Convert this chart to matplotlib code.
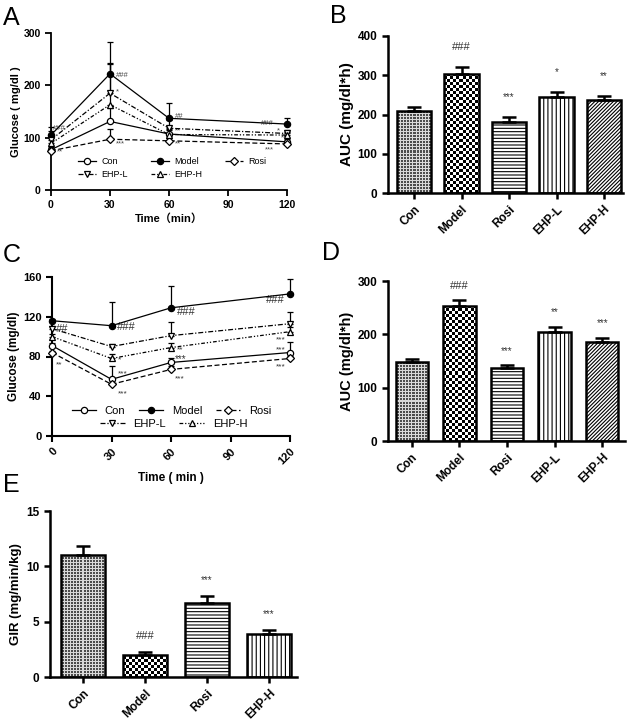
import numpy as np
import matplotlib
matplotlib.use("Agg")
import matplotlib.pyplot as plt

plt.rcParams['font.family'] = ['Liberation Sans', 'DejaVu Sans']
plt.rcParams['hatch.linewidth'] = 0.8

# ---------------- data ----------------
times = [0, 30, 60, 120]
groups5 = ["Con", "Model", "Rosi", "EHP-L", "EHP-H"]
groups4 = ["Con", "Model", "Rosi", "EHP-H"]

# Panel A (OGTT)
ogtt_con = [77, 131, 107, 92]
ogtt_con_err = [5, 25, 8, 5]
ogtt_model = [105, 222, 137, 126]
ogtt_model_err = [15, 60, 30, 11]
ogtt_rosi = [75, 97, 94, 88]
ogtt_rosi_err = [5, 20, 5, 4]
ogtt_ehpl = [96, 185, 118, 108]
ogtt_ehpl_err = [17, 58, 15, 6]
ogtt_ehph = [89, 163, 106, 105]
ogtt_ehph_err = [10, 77, 10, 5]

# Panel C (ITT)
itt_con = [91, 57, 74, 84]
itt_con_err = [3, 13, 4, 11]
itt_model = [116, 111, 129, 143]
itt_model_err = [2, 24, 22, 15]
itt_rosi = [84, 52, 67, 78]
itt_rosi_err = [2, 4, 3, 3]
itt_ehpl = [108, 90, 101, 113]
itt_ehpl_err = [3, 3, 14, 12]
itt_ehph = [100, 78, 89, 105]
itt_ehph_err = [3, 5, 5, 5]

# Panel B / D / E
auc_ogtt = [210, 303, 182, 244, 236]
auc_ogtt_err = [8, 17, 11, 13, 12]
auc_itt = [149, 254, 136, 204, 186]
auc_itt_err = [5, 10, 6, 10, 8]
gir = [11.0, 1.96, 6.7, 3.92]
gir_err = [0.86, 0.27, 0.63, 0.31]

sig_b = ["", "###", "***", "*", "**"]
sig_d = ["", "###", "***", "**", "***"]
sig_e = ["", "###", "***", "***"]

W, H = 629, 726
fig = plt.figure(figsize=(W / 100, H / 100), dpi=100)


def ax_px(x0, y0, x1, y1):
    return fig.add_axes([x0 / W, 1 - y1 / H, (x1 - x0) / W, (y1 - y0) / H])


def style_axes(ax, lw=1.5):
    for s in ['top', 'right']:
        ax.spines[s].set_visible(False)
    for s in ['left', 'bottom']:
        ax.spines[s].set_linewidth(lw)
    ax.tick_params(direction='out', length=4, width=lw)


series_style = {
    "Con": dict(ls='-', marker='o', mfc='white', ms=4.5),
    "Model": dict(ls='-', marker='o', mfc='black', ms=4.5),
    "Rosi": dict(ls=(0, (4, 2)), marker='D', mfc='white', ms=3.8),
    "EHP-L": dict(ls=(0, (4, 1.5, 1, 1.5)), marker='v', mfc='white', ms=4.5),
    "EHP-H": dict(ls=(0, (3, 1.5, 1, 1.5, 1, 1.5)), marker='^', mfc='white', ms=4.5),
}


def line_panel(ax, data):
    handles = {}
    for name, vals, err in data:
        st = series_style[name]
        h, = ax.plot(times, vals, color='black', lw=0.9, ls=st['ls'], marker=st['marker'],
                     mfc=st['mfc'], mec='black', ms=st['ms'], mew=0.9, clip_on=False, zorder=4)
        ax.errorbar(times, vals, yerr=[np.zeros(len(err)), err], fmt='none', ecolor='black',
                    elinewidth=0.9, capsize=2.5, capthick=0.9, clip_on=False, zorder=3)
        handles[name] = h
    return handles


# ---------------- Panel A ----------------
axA = ax_px(51, 33, 287, 190)
style_axes(axA, 1.3)
hA = line_panel(axA, [("Con", ogtt_con, ogtt_con_err), ("Model", ogtt_model, ogtt_model_err),
                      ("Rosi", ogtt_rosi, ogtt_rosi_err), ("EHP-L", ogtt_ehpl, ogtt_ehpl_err),
                      ("EHP-H", ogtt_ehph, ogtt_ehph_err)])
axA.set_xlim(0, 120)
axA.set_ylim(0, 300)
axA.set_xticks([0, 30, 60, 90, 120])
axA.set_yticks([0, 100, 200, 300])
for lab in axA.get_xticklabels() + axA.get_yticklabels():
    lab.set_fontsize(7.5)
    lab.set_fontweight('bold')
axA.set_ylabel("Glucose ( mg/dl )", fontsize=8, fontweight='bold', labelpad=2)
axA.set_xlabel("Time（min）", fontsize=8, fontweight='bold', labelpad=2,
               family=['Liberation Sans', 'Noto Sans CJK SC'])
order = ["Con", "EHP-L", "Model", "EHP-H", "Rosi"]
axA.legend([hA[k] for k in order], order, ncol=3, loc='center left', bbox_to_anchor=(0.08, 0.14),
           frameon=False, fontsize=6.5, handlelength=2.0, columnspacing=2.5, labelspacing=0.4,
           handletextpad=0.6)
ann_a = [(1, 118, "###"), (33, 218, "###"), (33, 188, "*"), (33, 88, "***"), (3, 72, "**"),
         (63, 140, "##"), (63, 112, "**"), (63, 88, "**"), (107, 128, "###"), (115, 112, "*"),
         (117, 100, "**"), (109, 76, "***")]
for x, y, t in ann_a:
    axA.text(x, y, t, fontsize=5.5, color='#444', ha='left', va='center')

# ---------------- Panel C ----------------
axC = ax_px(52, 277, 290, 436)
style_axes(axC, 1.5)
hC = line_panel(axC, [("Con", itt_con, itt_con_err), ("Model", itt_model, itt_model_err),
                      ("Rosi", itt_rosi, itt_rosi_err), ("EHP-L", itt_ehpl, itt_ehpl_err),
                      ("EHP-H", itt_ehph, itt_ehph_err)])
axC.set_xlim(0, 120)
axC.set_ylim(0, 160)
axC.set_xticks([0, 30, 60, 90, 120])
axC.set_yticks([0, 40, 80, 120, 160])
for lab in axC.get_yticklabels():
    lab.set_fontsize(8)
    lab.set_fontweight('bold')
for lab in axC.get_xticklabels():
    lab.set_fontsize(8)
    lab.set_fontweight('bold')
    lab.set_rotation(45)
    lab.set_ha('right')
    lab.set_rotation_mode('anchor')
axC.set_ylabel("Glucose (mg/dl)", fontsize=8.5, fontweight='bold', labelpad=2)
axC.set_xlabel("Time ( min )", fontsize=8.5, fontweight='bold', labelpad=4)
leg1 = axC.legend([hC[k] for k in ["Con", "Model", "Rosi"]], ["Con", "Model", "Rosi"], ncol=3,
                  loc='center left', bbox_to_anchor=(0.04, 0.16), frameon=False, fontsize=8,
                  handlelength=2.2, columnspacing=1.2, handletextpad=0.8)
axC.add_artist(leg1)
axC.legend([hC[k] for k in ["EHP-L", "EHP-H"]], ["EHP-L", "EHP-H"], ncol=2,
           loc='center left', bbox_to_anchor=(0.16, 0.075), frameon=False, fontsize=8,
           handlelength=2.2, columnspacing=1.2, handletextpad=0.8)
ann_c = [(2, 108, "##", 8), (2, 72, "**", 6), (33, 110, "###", 8), (33, 77, "*", 6),
         (33, 62, "***", 6), (33, 42, "***", 6), (63, 125, "###", 8), (63, 87, "**", 6),
         (62, 77, "***", 7), (62, 57, "***", 6), (108, 137, "###", 8), (113, 97, "***", 6),
         (113, 87, "***", 6), (113, 70, "***", 6)]
for x, y, t, fs in ann_c:
    axC.text(x, y, t, fontsize=fs, color='#333', ha='left', va='center')


# ---------------- bar panels ----------------
def texture(ax, bar, kind):
    x0, y0 = bar.get_x(), bar.get_y()
    w, h = bar.get_width(), bar.get_height()
    (px0, py0), (px1, py1) = ax.transData.transform([(x0, y0), (x0 + w, y0 + h)])
    nx, ny = max(int(round(abs(px1 - px0))), 1), max(int(round(abs(py1 - py0))), 1)
    ii, jj = np.mgrid[0:ny, 0:nx]
    if kind == 'checker':
        arr = ((ii // 3 + jj // 3) % 2).astype(float)
    else:  # fine grey grid
        arr = np.where((ii % 3 == 0) | (jj % 3 == 0), 0.85, 0.3)
    xl, yl = ax.get_xlim(), ax.get_ylim()
    im = ax.imshow(arr, extent=(x0, x0 + w, y0, y0 + h), origin='lower', cmap='gray',
                   vmin=0, vmax=1, interpolation='nearest', aspect='auto', zorder=1.5)
    im.set_clip_path(bar)
    ax.set_xlim(xl)
    ax.set_ylim(yl)


def bar_panel(ax, cats, vals, errs, patterns, xlim, ylim, yticks, ylabel, sigs, sig_off, width, ylabfs):
    style_axes(ax, 1.8)
    x = np.arange(len(cats))
    ax.set_xlim(*xlim)
    ax.set_ylim(*ylim)
    bars = ax.bar(x, vals, width=width, color='white', edgecolor='none', zorder=1)
    for b, p in zip(bars, patterns):
        if p in ('checker', 'grey'):
            texture(ax, b, p)
    hatch_bars = ax.bar(x, vals, width=width, color='none', edgecolor='black', lw=0, zorder=1.6)
    for b, p in zip(hatch_bars, patterns):
        if p not in ('checker', 'grey'):
            b.set_hatch(p)
    ax.bar(x, vals, width=width, color='none', edgecolor='black', lw=1.8, zorder=2)
    ax.errorbar(x, vals, yerr=[np.zeros(len(errs)), errs], fmt='none', ecolor='black',
                elinewidth=1.8, capsize=5, capthick=1.8, zorder=3)
    ax.set_xticks(x)
    ax.set_xticklabels(cats, rotation=45, ha='right', rotation_mode='anchor',
                       fontsize=8.5, fontweight='bold')
    ax.set_yticks(yticks)
    for lab in ax.get_yticklabels():
        lab.set_fontsize(8.5)
        lab.set_fontweight('bold')
    ax.set_ylabel(ylabel, fontsize=ylabfs, fontweight='bold', labelpad=3)
    for xi, v, e, s in zip(x, vals, errs, sigs):
        if s:
            ax.text(xi, v + e + sig_off, s, ha='center', va='bottom',
                    fontsize=8 if s.startswith('#') else 7, color='#333')


pat5 = ['grey', 'checker', '-----', '||||', '/////////']
axB = ax_px(388, 36, 623, 193)
bar_panel(axB, groups5, auc_ogtt, auc_ogtt_err, pat5, (-0.55, 4.4), (0, 400),
          [0, 100, 200, 300, 400], "AUC (mg/dl*h)", sig_b, 38, 0.72, 11)
axD = ax_px(388, 281, 625, 441)
bar_panel(axD, groups5, auc_itt, auc_itt_err, pat5, (-0.5, 4.48), (0, 300),
          [0, 100, 200, 300], "AUC (mg/dl*h)", sig_d, 18, 0.68, 10.5)
pat4 = ['grey', 'checker', '-----', '||||']
axE = ax_px(50, 511, 297, 677)
bar_panel(axE, groups4, gir, gir_err, pat4, (-0.53, 3.45), (0, 15),
          [0, 5, 10, 15], "GIR (mg/min/kg)", sig_e, 1.0, 0.7, 9.5)

# ---------------- panel letters ----------------
for t, x, y in [("A", 3, 25), ("B", 330, 23), ("C", 3, 262), ("D", 322, 260), ("E", 3, 492)]:
    fig.text(x / W, 1 - y / H, t, fontsize=18, ha='left', va='baseline')

fig.savefig("out.png", dpi=100)
